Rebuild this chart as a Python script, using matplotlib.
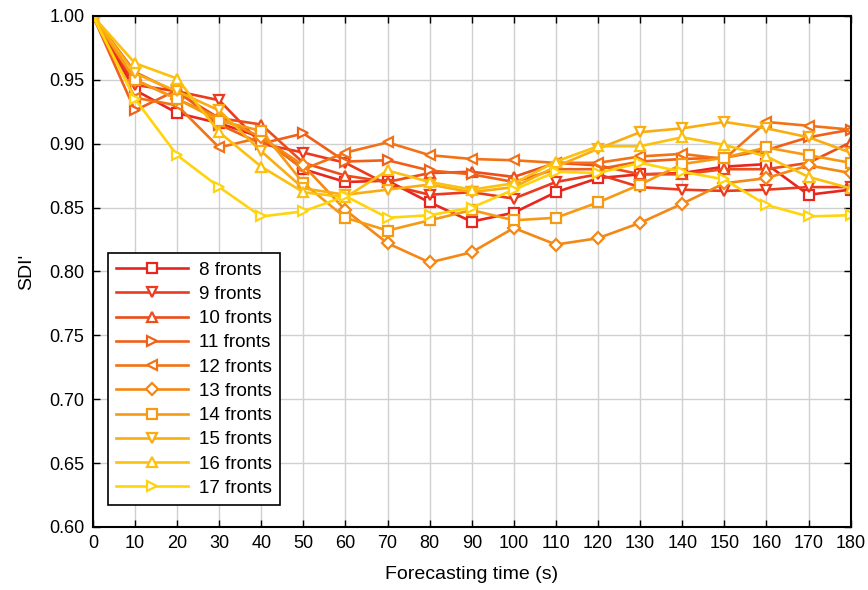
import numpy as np
import matplotlib
matplotlib.use("Agg")
import matplotlib.pyplot as plt

plt.rcParams['font.family'] = ['Liberation Sans', 'DejaVu Sans']

# forecasting horizon (s)
times = [0, 10, 20, 30, 40, 50, 60, 70, 80, 90, 100, 110, 120, 130, 140, 150, 160, 170, 180]

# SDI' for each number of fronts
sdi_8 = [1.000, 0.942, 0.924, 0.916, 0.905, 0.880, 0.870, 0.871, 0.854, 0.839, 0.846, 0.862, 0.873, 0.876, 0.877, 0.882, 0.884, 0.860, 0.864]
sdi_9 = [1.000, 0.946, 0.941, 0.934, 0.900, 0.893, 0.885, 0.868, 0.860, 0.862, 0.857, 0.870, 0.876, 0.866, 0.864, 0.863, 0.864, 0.866, 0.866]
sdi_10 = [1.000, 0.956, 0.940, 0.920, 0.915, 0.885, 0.875, 0.870, 0.877, 0.878, 0.874, 0.885, 0.883, 0.876, 0.876, 0.880, 0.880, 0.885, 0.901]
sdi_11 = [1.000, 0.926, 0.942, 0.915, 0.900, 0.908, 0.886, 0.887, 0.879, 0.876, 0.870, 0.880, 0.880, 0.886, 0.888, 0.889, 0.895, 0.905, 0.911]
sdi_12 = [1.000, 0.936, 0.930, 0.897, 0.905, 0.880, 0.893, 0.901, 0.891, 0.888, 0.887, 0.885, 0.885, 0.890, 0.892, 0.888, 0.917, 0.914, 0.911]
sdi_13 = [1.000, 0.950, 0.935, 0.920, 0.905, 0.883, 0.848, 0.822, 0.807, 0.815, 0.834, 0.821, 0.826, 0.838, 0.853, 0.869, 0.873, 0.883, 0.877]
sdi_14 = [1.000, 0.950, 0.935, 0.918, 0.910, 0.869, 0.842, 0.832, 0.840, 0.848, 0.840, 0.842, 0.854, 0.868, 0.884, 0.889, 0.897, 0.891, 0.885]
sdi_15 = [1.000, 0.955, 0.941, 0.926, 0.894, 0.865, 0.860, 0.864, 0.868, 0.862, 0.866, 0.882, 0.896, 0.909, 0.912, 0.917, 0.912, 0.905, 0.893]
sdi_16 = [1.000, 0.963, 0.951, 0.909, 0.882, 0.862, 0.858, 0.879, 0.870, 0.864, 0.869, 0.886, 0.898, 0.898, 0.905, 0.899, 0.890, 0.874, 0.865]
sdi_17 = [1.000, 0.935, 0.891, 0.866, 0.843, 0.847, 0.859, 0.842, 0.844, 0.850, 0.864, 0.878, 0.877, 0.885, 0.878, 0.872, 0.852, 0.843, 0.844]

fronts = [8, 9, 10, 11, 12, 13, 14, 15, 16, 17]
series = [sdi_8, sdi_9, sdi_10, sdi_11, sdi_12, sdi_13, sdi_14, sdi_15, sdi_16, sdi_17]
markers = ['s', 'v', '^', '>', '<', 'D', 's', 'v', '^', '>']

# red -> yellow ramp
c_start = np.array([0.91, 0.15, 0.12])
c_end = np.array([1.00, 0.83, 0.05])

fig = plt.figure(figsize=(8.68, 5.90), dpi=100)
ax = fig.add_axes([0.107, 0.107, 0.873, 0.866])

for i, (n, vals, m) in enumerate(zip(fronts, series, markers)):
    col = np.clip(c_start + (c_end - c_start) * i / (len(fronts) - 1), 0, 1)
    ms = 6.5 if m == 'D' else 7.5
    ax.plot(times, vals, marker=m, color=tuple(col), linewidth=1.9, markersize=ms,
            markerfacecolor='white', markeredgewidth=1.6, label=f'{n} fronts')

ax.set_xlim(0, 180)
ax.set_ylim(0.60, 1.00)
ax.set_xticks(np.arange(0, 181, 10))
ax.set_yticks(np.arange(0.60, 1.001, 0.05))
ax.set_yticklabels([f'{v:.2f}' for v in np.arange(0.60, 1.001, 0.05)])
ax.tick_params(direction='in', length=5, width=1, labelsize=13, pad=6,
               top=True, right=True, colors='black')
ax.grid(True, color='#d0d0d0', linewidth=1.0)
ax.set_axisbelow(True)
for s in ax.spines.values():
    s.set_linewidth(1.5)
    s.set_color('black')

ax.set_xlabel('Forecasting time (s)', fontsize=14, labelpad=10)
ax.set_ylabel("SDI'", fontsize=14, labelpad=10)

leg = ax.legend(loc='lower left', bbox_to_anchor=(0.02, 0.042), fontsize=13.5,
                fancybox=False, framealpha=1, edgecolor='black',
                handlelength=3.8, handletextpad=0.6, borderpad=0.45,
                labelspacing=0.38, borderaxespad=0)
leg.get_frame().set_linewidth(1.2)

fig.savefig('out.png', dpi=100)
